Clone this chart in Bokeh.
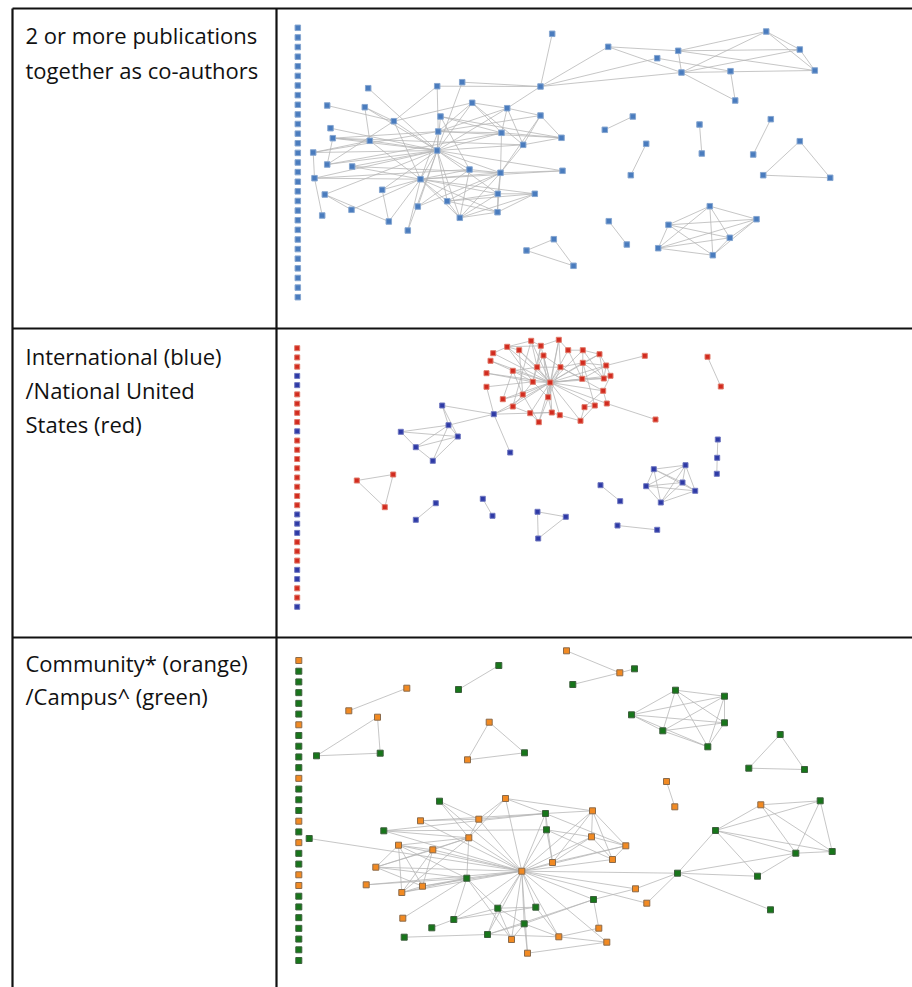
from bokeh.plotting import figure
from bokeh.models import Range1d, ColumnDataSource
from bokeh.core.properties import value
from bokeh.embed import file_html
from bokeh.resources import INLINE
import numpy as np

# ---------------------------------------------------------------------------
# Row labels (left column of the table)
# ---------------------------------------------------------------------------
row1_lines = ["2 or more publications", "together as co-authors"]
row2_lines = ["International (blue)", "/National United", "States (red)"]
row3_lines = ["Community* (orange)", "/Campus^ (green)"]

# ---------------------------------------------------------------------------
# Network 1: co-authorship (2 or more joint publications)
# ---------------------------------------------------------------------------
net1_ids = ["a1", "a2", "a3", "a4", "a5", "a6", "a7", "a8", "a9", "a10",
            "a11", "a12", "a13", "a14", "a15", "a16", "a17", "a18", "a19", "a20",
            "a21", "a22", "a23", "a24", "a25", "a26", "a27", "a28", "a29", "a30",
            "a31", "a32", "a33", "a34", "a35", "a36", "a37", "a38", "a39", "a40",
            "b3", "b4", "b5", "b6", "b7", "b8", "b9", "b10", "b11",
            "c1", "c2", "c3", "c4", "c5", "c6", "c7", "c8", "c9", "c10", "c11", "c12", "c13",
            "t1", "t2", "t3",
            "d1", "d2", "d3", "d4", "d5", "d6"]
net1_x = [551.7, 540.0, 436.7, 461.7, 367.7, 326.7, 364.3, 471.7, 506.7, 393.3,
          440.0, 540.0, 330.0, 332.3, 369.3, 437.7, 501.0, 561.0, 522.7, 312.7,
          436.7, 326.7, 351.7, 314.0, 420.0, 469.0, 500.0, 562.0, 381.7, 324.3,
          497.3, 534.3, 446.7, 417.3, 351.0, 321.7, 497.0, 459.3, 388.3, 407.3,
          607.7, 677.7, 656.7, 681.0, 730.0, 765.7, 799.3, 814.3, 734.7,
          604.3, 632.3, 645.7, 630.3, 699.0, 701.3, 770.3, 752.7, 799.3, 762.7, 829.7, 608.3, 626.3,
          553.3, 526.0, 573.0,
          709.3, 756.0, 668.0, 729.3, 657.7, 712.3]
net1_y = [33.3, 86.0, 85.7, 81.7, 87.7, 105.0, 106.7, 102.3, 107.7, 120.7,
          116.0, 115.0, 127.7, 137.7, 140.3, 131.0, 132.3, 137.3, 144.3, 152.0,
          150.0, 164.0, 166.0, 177.7, 178.7, 169.0, 172.3, 170.3, 189.3, 194.0,
          193.3, 193.3, 200.7, 206.0, 209.3, 215.0, 211.7, 217.3, 221.0, 230.0,
          46.3, 50.3, 57.7, 72.0, 70.7, 31.0, 49.0, 70.0, 100.0,
          129.3, 116.0, 143.3, 174.7, 124.0, 153.0, 118.7, 154.0, 140.7, 174.7, 177.3, 220.7, 244.0,
          238.7, 250.0, 265.3,
          205.7, 218.7, 224.3, 237.3, 247.7, 254.7]
net1_edges = [
    "a1 a2", "a2 a3", "a2 a4", "a2 a9", "a2 b3", "a2 b5", "a2 b6",
    "b3 b4", "b3 b6", "b4 b6", "b4 b8", "b4 b9", "b4 b10", "b5 b7", "b6 b8",
    "b6 b9", "b6 b10", "b6 b11", "b7 b11", "b8 b9", "b8 b10", "b9 b10",
    "a3 a16", "a3 a10", "a4 a21", "a5 a21", "a6 a10", "a7 a15", "a7 a10", "a7 a21",
    "a8 a9", "a8 a16", "a8 a17", "a8 a21", "a8 a19", "a8 a10", "a9 a17", "a9 a19",
    "a9 a12", "a9 a21", "a9 a16", "a10 a21", "a10 a25", "a10 a22", "a11 a21",
    "a11 a17", "a11 a26", "a11 a18", "a12 a18", "a12 a16", "a12 a19", "a12 a27",
    "a13 a21", "a14 a16", "a14 a21", "a14 a15", "a14 a22", "a14 a19", "a15 a21",
    "a15 a20", "a15 a25", "a16 a21", "a16 a17", "a16 a18", "a16 a25", "a17 a18",
    "a17 a21", "a17 a27", "a19 a21", "a19 a18", "a19 a27", "a20 a21", "a20 a24",
    "a20 a16", "a21 a22", "a21 a23", "a21 a24", "a21 a25", "a21 a26", "a21 a27",
    "a21 a29", "a21 a30", "a21 a31", "a21 a33", "a21 a34", "a21 a38", "a21 a40",
    "a21 a28", "a22 a17", "a23 a25", "a23 a27", "a24 a25", "a24 a36", "a24 a26",
    "a25 a26", "a25 a27", "a25 a31", "a25 a37", "a25 a38", "a25 a33", "a25 a39",
    "a25 a28", "a26 a27", "a26 a38", "a26 a34", "a27 a31", "a27 a37", "a27 a38",
    "a27 a28", "a27 a33", "a27 a34", "a29 a25", "a29 a39", "a30 a35", "a30 a39",
    "a31 a32", "a31 a37", "a31 a33", "a31 a38", "a32 a33", "a32 a37", "a32 a38",
    "a32 a25", "a33 a37", "a33 a38", "a35 a25", "a37 a38", "a40 a25",
    "c1 c2", "c3 c4", "c5 c6", "c7 c8", "c9 c10", "c9 c11", "c10 c11", "c12 c13",
    "t1 t2", "t1 t3", "t2 t3",
    "d1 d2", "d1 d3", "d1 d4", "d1 d5", "d1 d6", "d2 d3", "d2 d4", "d2 d5",
    "d2 d6", "d3 d4", "d3 d5", "d3 d6", "d4 d5", "d4 d6", "d5 d6",
]
net1_group = ["author"] * len(net1_ids)
net1_isolates = ["author"] * 29

# ---------------------------------------------------------------------------
# Network 2: international (blue) vs national United States (red)
# ---------------------------------------------------------------------------
net2_ids = ["r1", "r2", "r3", "r4", "r5", "r6", "r7", "r8", "r9", "r10",
            "r11", "r12", "r13", "r14", "r15", "r16", "r17", "r18", "r19", "r20",
            "r21", "r22", "r23", "r24", "r25", "r26", "r27", "r28", "r29", "r30",
            "r31", "r32", "r33", "r34", "r35", "r36", "r37", "r38",
            "u1", "u2", "u3", "u4", "u5", "u6", "u7", "u8",
            "s1", "s2", "s3",
            "v1", "v2", "v3", "v4", "v5", "v6", "v7", "v8", "v9", "v10", "v11",
            "q1", "q2", "q3", "q4", "q5", "q6",
            "w1", "w2", "x1", "x2", "x3"]
net2_x = [506.7, 530.7, 540.3, 558.3, 518.7, 492.7, 543.0, 567.7, 582.3, 599.0,
          490.0, 582.3, 605.7, 536.7, 560.0, 512.3, 486.0, 610.0, 581.7, 603.3,
          532.3, 549.7, 486.0, 602.7, 522.3, 547.7, 502.3, 644.3, 512.3, 594.3,
          606.3, 584.0, 529.7, 551.3, 559.3, 538.3, 580.0, 655.0,
          493.3, 441.7, 448.0, 400.3, 457.3, 415.3, 432.3, 509.7,
          356.3, 392.7, 384.3,
          435.3, 415.3, 482.3, 492.0, 537.0, 565.3, 537.7, 600.0, 619.7, 617.0, 656.7,
          653.3, 685.0, 645.7, 682.0, 694.7, 660.3,
          707.0, 720.3, 717.3, 716.7, 716.3]
net2_y = [346.3, 340.3, 345.3, 339.3, 349.7, 352.7, 355.0, 349.7, 349.7, 353.7,
          360.3, 362.3, 365.0, 366.7, 366.7, 370.3, 372.7, 375.3, 378.3, 378.0,
          381.3, 382.0, 386.3, 390.3, 394.0, 396.7, 398.7, 355.3, 406.0, 405.0,
          403.0, 406.7, 412.7, 412.0, 414.7, 421.7, 420.3, 419.0,
          413.7, 405.0, 424.7, 431.3, 436.0, 446.7, 460.3, 452.0,
          480.0, 474.0, 506.7,
          502.7, 519.3, 498.3, 515.3, 511.3, 516.3, 538.0, 484.7, 500.7, 525.0, 529.3,
          468.7, 464.7, 485.7, 482.0, 490.3, 502.0,
          356.3, 386.0, 439.0, 457.3, 473.3]
net2_group = (["national"] * 38 + ["international"] * 8 + ["national"] * 3
              + ["international"] * 11 + ["international"] * 6
              + ["national"] * 2 + ["international"] * 3)
net2_edges = [
    "r22 r1", "r22 r2", "r22 r3", "r22 r4", "r22 r7", "r22 r8", "r22 r9",
    "r22 r10", "r22 r12", "r22 r13", "r22 r14", "r22 r15", "r22 r16", "r22 r19",
    "r22 r20", "r22 r21", "r22 r24", "r22 r25", "r22 r26", "r22 r27", "r22 r29",
    "r22 r30", "r22 r31", "r22 r33", "r22 r34", "r22 r35", "r22 r36", "r22 r37",
    "r22 r6", "r22 r11", "r22 r17", "r22 r18", "r22 r5",
    "r1 r5", "r1 r3", "r1 r2", "r2 r3", "r3 r4", "r4 r8", "r8 r9", "r9 r10",
    "r10 r13", "r12 r20", "r12 r15", "r13 r20", "r15 r19", "r19 r20", "r19 r12",
    "r20 r18", "r18 r24", "r24 r31", "r30 r32", "r32 r37", "r37 r35", "r35 r34",
    "r34 r33", "r33 r29", "r29 r25", "r25 r21", "r21 r14", "r14 r7", "r16 r14",
    "r16 r21", "r6 r1", "r11 r16", "r17 r21", "r23 r21", "r27 r25", "r26 r34",
    "r26 r21", "r36 r33", "r36 r25", "r14 r15", "r7 r15", "r5 r14", "r9 r12",
    "r10 r12", "r12 r13", "r12 r30", "r15 r24", "r2 r14", "r4 r15", "r9 r20",
    "r24 r32", "r1 r21", "r3 r21", "r8 r19", "r13 r19", "r10 r20", "r30 r37",
    "r16 r25", "r7 r26", "r4 r26", "r2 r29", "r27 r16", "r5 r25", "r15 r36",
    "r28 r13", "r38 r31", "r13 r18", "r3 r14",
    "u1 r22", "u1 r23", "u1 r29", "u1 r34", "u1 u2", "u1 u3", "u1 u8",
    "u2 u3", "u2 u5", "u3 u4", "u3 u5", "u3 u6", "u3 u7", "u4 u6", "u4 u5",
    "u5 u6", "u6 u7", "u5 u7",
    "s1 s2", "s2 s3", "s1 s3",
    "v1 v2", "v3 v4", "v5 v6", "v5 v7", "v6 v7", "v8 v9", "v10 v11",
    "q1 q2", "q1 q3", "q1 q4", "q1 q5", "q1 q6", "q2 q3", "q2 q4", "q2 q5",
    "q2 q6", "q3 q4", "q3 q5", "q3 q6", "q4 q5", "q4 q6", "q5 q6",
    "w1 w2", "x1 x2", "x2 x3",
]
net2_isolates = ["national", "national", "national", "international", "international",
                 "national", "national", "national", "national", "international",
                 "national", "national", "national", "national", "national",
                 "national", "national", "national", "international", "international",
                 "international", "national", "national", "national", "international",
                 "international", "national", "national", "international"]

# ---------------------------------------------------------------------------
# Network 3: community (orange) vs campus (green)
# ---------------------------------------------------------------------------
net3_ids = ["o1", "o2", "o3", "g1", "g2", "g3", "g4", "o4", "o5", "g5",
            "o6", "o7", "g6", "g7",
            "h1", "h2", "h3", "h4", "h5", "h6",
            "k1", "k2", "k3", "o8", "o9",
            "p1", "p2", "p3", "p4", "p5", "p6", "p7", "p8",
            "m1", "m2", "m3", "m4", "m5", "m6", "m7", "m8", "m9", "m10",
            "m11", "m12", "m13", "m14", "m15", "m16", "m17", "m18", "m19", "m20",
            "m21", "m22", "m23", "m24", "m25", "m26", "m27", "m28", "m29", "m30",
            "m31", "m32", "m33", "m34", "m35", "m36", "m37", "m38"]
net3_x = [348.3, 406.3, 377.0, 316.0, 379.7, 458.0, 498.3, 488.7, 467.0, 524.0,
          566.0, 619.3, 634.0, 572.3,
          675.0, 724.0, 631.0, 724.0, 662.3, 707.3,
          779.7, 748.3, 804.0, 666.0, 674.3,
          760.3, 819.7, 715.0, 795.3, 831.7, 677.0, 757.0, 770.0,
          308.7, 439.0, 505.0, 420.0, 478.3, 545.0, 383.3, 546.0, 468.3, 398.0,
          432.3, 552.0, 375.3, 521.3, 466.3, 365.7, 422.0, 401.3, 402.3, 497.3,
          535.3, 453.3, 431.3, 523.7, 403.7, 487.0, 511.0, 558.3, 527.0, 592.0,
          591.0, 625.3, 612.0, 635.0, 646.3, 593.0, 598.3, 606.3]
net3_y = [710.3, 687.7, 716.7, 755.3, 752.7, 689.0, 665.0, 721.7, 759.3, 752.3,
          650.3, 672.3, 668.3, 684.0,
          689.7, 695.7, 714.3, 722.3, 730.3, 746.3,
          734.0, 767.7, 769.0, 781.0, 806.3,
          804.3, 800.3, 830.0, 852.7, 851.0, 872.7, 875.7, 909.3,
          838.0, 800.7, 798.0, 820.3, 818.7, 813.0, 830.3, 829.3, 837.3, 844.7,
          849.3, 862.0, 866.7, 870.7, 877.7, 884.3, 885.7, 892.0, 917.7, 907.7,
          906.7, 919.0, 927.3, 923.3, 936.7, 934.0, 939.0, 936.3, 952.7, 810.3,
          836.3, 845.3, 859.0, 888.3, 902.7, 899.0, 927.7, 941.7]
net3_group = ["community", "community", "community", "campus", "campus", "campus",
              "campus", "community", "community", "campus",
              "community", "community", "campus", "campus",
              "campus", "campus", "campus", "campus", "campus", "campus",
              "campus", "campus", "campus", "community", "community",
              "community", "campus", "campus", "campus", "campus", "campus", "campus", "campus",
              "campus", "campus", "community", "community", "community", "campus",
              "campus", "campus", "community", "community",
              "community", "community", "community", "community", "campus", "community",
              "community", "community", "community", "campus",
              "campus", "campus", "campus", "campus", "campus", "campus", "community",
              "community", "community", "community",
              "community", "community", "community", "community", "community", "campus",
              "community", "community"]
net3_edges = [
    "o1 o2", "o3 g1", "o3 g2", "g1 g2", "g3 g4", "o4 o5", "o4 g5", "o5 g5",
    "o6 o7", "o7 g6", "o7 g7",
    "h1 h2", "h1 h3", "h1 h4", "h1 h5", "h1 h6", "h2 h3", "h2 h4", "h2 h5",
    "h2 h6", "h3 h4", "h3 h5", "h3 h6", "h4 h5", "h4 h6", "h5 h6",
    "k1 k2", "k1 k3", "k2 k3", "o8 o9",
    "p1 p2", "p1 p3", "p1 p4", "p1 p5", "p2 p3", "p2 p4", "p2 p5", "p3 p4",
    "p3 p5", "p3 p7", "p3 p6", "p4 p5", "p4 p7", "p4 p6", "p6 p8", "p6 p7",
    "p6 m14", "p6 m34", "p6 m35",
    "m14 m1", "m14 m2", "m14 m3", "m14 m4", "m14 m5", "m14 m6", "m14 m7",
    "m14 m8", "m14 m9", "m14 m10", "m14 m11", "m14 m12", "m14 m13", "m14 m15",
    "m14 m16", "m14 m17", "m14 m18", "m14 m20", "m14 m21", "m14 m22", "m14 m24",
    "m14 m26", "m14 m27", "m14 m28", "m14 m29", "m14 m30", "m14 m31", "m14 m32",
    "m14 m33", "m14 m34", "m14 m35", "m14 m36", "m14 m38",
    "m2 m9", "m2 m5", "m3 m5", "m3 m6", "m3 m9", "m4 m5", "m4 m6", "m5 m9",
    "m5 m6", "m6 m8", "m6 m30", "m6 m12", "m7 m9", "m7 m8", "m7 m6", "m9 m10",
    "m9 m11", "m9 m13", "m9 m15", "m9 m18", "m10 m11", "m10 m13", "m10 m17",
    "m10 m18", "m10 m15", "m11 m13", "m11 m17", "m11 m18", "m13 m15", "m13 m17",
    "m16 m15", "m17 m15", "m17 m18", "m18 m15", "m19 m15", "m23 m22", "m22 m15",
    "m22 m20", "m22 m21", "m25 m26", "m26 m24", "m26 m20", "m26 m28", "m20 m21",
    "m20 m24", "m20 m15", "m20 m27", "m24 m29", "m24 m27", "m24 m28", "m27 m15",
    "m28 m21", "m29 m38", "m12 m8", "m12 m30", "m12 m31", "m12 m32",
    "m30 m31", "m30 m32", "m30 m33", "m31 m32", "m31 m33", "m32 m33",
    "m8 m31", "m3 m30", "m6 m32", "m8 m33",
    "m36 m34", "m36 m24", "m36 m37", "m36 m26", "m37 m28", "m38 m28",
]
net3_isolates = ["community", "campus", "campus", "campus", "campus", "campus",
                 "community", "campus", "campus", "campus", "campus", "community",
                 "campus", "campus", "campus", "community", "campus", "community",
                 "campus", "campus", "community", "community", "campus", "campus",
                 "campus", "campus", "campus", "campus", "campus"]

# ---------------------------------------------------------------------------
# Node styling per group
# ---------------------------------------------------------------------------
group_fill = {"author": "#4a7cbe", "national": "#d22b1f", "international": "#2e3aa6",
              "community": "#f28a22", "campus": "#17761a"}
group_line = {"author": "#86a6d0", "national": "#e07a6a", "international": "#7078c0",
              "community": "#8a6a4a", "campus": "#3d5f3d"}

W, H = 912, 987
p = figure(width=W, height=H, x_range=Range1d(0, W), y_range=Range1d(H, 0),
           output_backend="svg", toolbar_location=None, min_border=0,
           x_axis_location=None, y_axis_location=None)
p.grid.visible = False
p.outline_line_color = None
p.background_fill_color = "white"
p.border_fill_color = "white"

# table grid
col_left, col_mid, col_right = 12, 276, W
row_tops = [8, 328, 637]
p.segment(x0=[col_left] * 3, y0=row_tops, x1=[col_right] * 3, y1=row_tops,
          line_color="#111111", line_width=2.2)
p.segment(x0=[col_left, col_mid], y0=[row_tops[0]] * 2, x1=[col_left, col_mid], y1=[H, H],
          line_color="#111111", line_width=2.2)

# row captions
label_font = value("Open Sans")
caption_rows = [(row1_lines, [34, 69]), (row2_lines, [355, 389, 423]), (row3_lines, [662, 695])]
for lines, baselines in caption_rows:
    p.text(x=[25] * len(lines), y=baselines, text=lines, text_font=label_font,
           text_font_size="22px", text_color="#111111",
           text_baseline="alphabetic", text_align="left")


def draw_network(ids, xs, ys, groups, edges, isolates, iso_x, iso_top, iso_bottom, size):
    pos = {k: (x, y) for k, x, y in zip(ids, xs, ys)}
    pairs = [e.split() for e in edges]
    src = ColumnDataSource(dict(
        x0=[pos[a][0] for a, b in pairs], y0=[pos[a][1] for a, b in pairs],
        x1=[pos[b][0] for a, b in pairs], y1=[pos[b][1] for a, b in pairs]))
    p.segment("x0", "y0", "x1", "y1", source=src, line_color="#b4b4b4",
              line_width=0.9, line_alpha=0.85)
    iso_y = list(np.linspace(iso_top, iso_bottom, len(isolates)))
    all_x = list(xs) + [iso_x] * len(isolates)
    all_y = list(ys) + iso_y
    all_g = list(groups) + list(isolates)
    nodes = ColumnDataSource(dict(x=all_x, y=all_y,
                                  fill=[group_fill[g] for g in all_g],
                                  line=[group_line[g] for g in all_g]))
    p.scatter("x", "y", source=nodes, marker="square", size=size,
              fill_color="fill", line_color="line", line_width=1)


draw_network(net1_ids, net1_x, net1_y, net1_group, net1_edges, net1_isolates,
             297.3, 27.3, 296.7, 5.5)
draw_network(net2_ids, net2_x, net2_y, net2_group, net2_edges, net2_isolates,
             296.7, 347.7, 606.3, 5.0)
draw_network(net3_ids, net3_x, net3_y, net3_group, net3_edges, net3_isolates,
             298.3, 660.0, 960.0, 6.0)

open("out.html", "w").write(file_html(p, INLINE))
